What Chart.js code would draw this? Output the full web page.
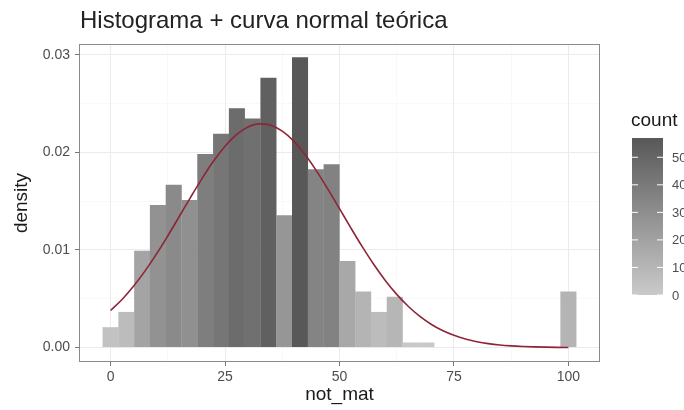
<!DOCTYPE html>
<html>
<head>
<meta charset="utf-8">
<script src="https://cdn.jsdelivr.net/npm/chart.js@4/dist/chart.umd.min.js"></script>
<style>
  body { margin: 0; background: #fff; }
  #wrap { width: 684px; height: 410px; }
</style>
</head>
<body>
<div id="wrap"><canvas id="histChart" width="684" height="410"></canvas></div>
<script>
// histogram bins (centres of not_mat bins) and their counts
const binCenters = [0, 3.45, 6.9, 10.34, 13.79, 17.24, 20.69, 24.14, 27.59, 31.03,
                    34.48, 37.93, 41.38, 44.83, 48.28, 51.72, 55.17, 58.62, 62.07, 65.52,
                    68.97, 72.41, 75.86, 79.31, 82.76, 86.21, 89.66, 93.1, 96.55, 100];
const binCounts = [4, 7, 19, 28, 32, 29, 38, 42, 47, 45,
                   53, 26, 57, 35, 36, 17, 11, 7, 10, 1,
                   1, 0, 0, 0, 0, 0, 0, 0, 0, 11];
const binWidth = 3.448;

// theoretical normal curve
const curveX = [0, 2.5, 5, 7.5, 10, 12.5, 15, 17.5, 20, 22.5, 25, 27.5, 30, 32.5, 35, 37.5, 40,
                42.5, 45, 47.5, 50, 52.5, 55, 57.5, 60, 62.5, 65, 67.5, 70, 72.5, 75, 77.5, 80,
                82.5, 85, 87.5, 90, 92.5, 95, 97.5, 100];
const curveY = [0.00380, 0.00493, 0.00628, 0.00783, 0.00957, 0.01145, 0.01343, 0.01542, 0.01734,
                0.01911, 0.02063, 0.02181, 0.02259, 0.02292, 0.02278, 0.02217, 0.02115, 0.01975,
                0.01808, 0.01620, 0.01423, 0.01224, 0.01031, 0.00851, 0.00688, 0.00545, 0.00423,
                0.00321, 0.00239, 0.00174, 0.00125, 0.00087, 0.00060, 0.00040, 0.00026, 0.00017,
                0.00011, 0.00007, 0.00004, 0.00002, 0.00001];

// axis ticks
const xMajor = [0, 25, 50, 75, 100];
const xMinor = [12.5, 37.5, 62.5, 87.5];
const yMajor = [0, 0.01, 0.02, 0.03];
const yMinor = [0.005, 0.015, 0.025];
const legendBreaks = [0, 10, 20, 30, 40, 50];

const total = binCounts.reduce((a, b) => a + b, 0);
const maxCount = Math.max(...binCounts);
const lowGrey = [202, 202, 202];
const highGrey = [88, 88, 88];

function greyFor(count) {
    const t = count / maxCount;
    const c = lowGrey.map((v, i) => Math.round(v + (highGrey[i] - v) * t));
    return 'rgb(' + c.join(',') + ')';
}

const barData = binCenters.map((x, i) => ({ x: x, y: binCounts[i] / (total * binWidth) }));
const curveData = curveX.map((x, i) => ({ x: x, y: curveY[i] }));

function setTicks(major, minor) {
    return function(scale) {
        scale.ticks = major.map(v => ({ value: v, minor: false }))
            .concat(minor.map(v => ({ value: v, minor: true })))
            .sort((a, b) => a.value - b.value);
    };
}
const gridColor = ctx => (ctx.tick && ctx.tick.minor) ? '#F5F5F5' : '#EBEBEB';
const gridWidth = ctx => (ctx.tick && ctx.tick.minor) ? 0.6 : 1;
const tickColor = ctx => (ctx.tick && ctx.tick.minor) ? 'rgba(0,0,0,0)' : '#777';

// title, panel border and colourbar legend
const decorations = {
    id: 'decorations',
    afterDraw(chart) {
        const ctx = chart.ctx;
        const area = chart.chartArea;
        ctx.save();

        ctx.strokeStyle = '#8a8a8a';
        ctx.lineWidth = 1;
        ctx.strokeRect(area.left + 0.5, area.top + 0.5, area.right - area.left - 1, area.bottom - area.top - 1);

        ctx.fillStyle = '#222';
        ctx.font = '24px "Liberation Sans", Arial, sans-serif';
        ctx.textBaseline = 'alphabetic';
        ctx.textAlign = 'left';
        ctx.fillText('Histograma + curva normal teórica', 80, 28);

        // colourbar
        const bx = 632, bw = 31, top = 138, bottom = 295;
        const grad = ctx.createLinearGradient(0, bottom, 0, top);
        for (let k = 0; k <= 10; k++) {
            grad.addColorStop(k / 10, greyFor(maxCount * k / 10));
        }
        ctx.fillStyle = grad;
        ctx.fillRect(bx, top, bw, bottom - top);

        ctx.fillStyle = '#1a1a1a';
        ctx.font = '19px "Liberation Sans", Arial, sans-serif';
        ctx.fillText('count', 631, 126);

        ctx.font = '13px "Liberation Sans", Arial, sans-serif';
        ctx.textBaseline = 'middle';
        legendBreaks.forEach(v => {
            const y = bottom - (v / maxCount) * (bottom - top);
            ctx.strokeStyle = '#fff';
            ctx.beginPath();
            ctx.moveTo(bx, y); ctx.lineTo(bx + 6, y);
            ctx.moveTo(bx + bw - 6, y); ctx.lineTo(bx + bw, y);
            ctx.stroke();
            ctx.fillStyle = '#4d4d4d';
            ctx.fillText(String(v), bx + bw + 9, y + 1);
        });
        ctx.restore();
    }
};

Chart.defaults.font.family = '"Liberation Sans", Arial, sans-serif';

new Chart(document.getElementById('histChart'), {
    type: 'bar',
    data: {
        datasets: [{
            type: 'line',
            data: curveData,
            borderColor: '#8E2537',
            borderWidth: 1.6,
            pointRadius: 0,
            cubicInterpolationMode: 'monotone',
            order: 0
        }, {
            type: 'bar',
            data: barData,
            backgroundColor: binCounts.map(greyFor),
            borderWidth: 0,
            barPercentage: 1.02,
            categoryPercentage: 1,
            order: 1
        }]
    },
    options: {
        responsive: false,
        animation: false,
        layout: { padding: { top: 44, right: 84, bottom: 0, left: 0 } },
        plugins: {
            legend: { display: false },
            title: { display: false },
            tooltip: { enabled: false }
        },
        scales: {
            x: {
                type: 'linear',
                min: -6.9,
                max: 106.9,
                offset: false,
                afterBuildTicks: setTicks(xMajor, xMinor),
                afterFit: s => { s.height = 48; },
                ticks: {
                    autoSkip: false,
                    maxRotation: 0,
                    padding: 3,
                    color: '#4d4d4d',
                    font: { size: 14 },
                    callback: v => xMajor.includes(v) ? String(v) : ''
                },
                grid: { offset: false, color: gridColor, lineWidth: gridWidth, tickColor: tickColor, tickLength: 4 },
                border: { display: false },
                title: { display: true, text: 'not_mat', color: '#1a1a1a', font: { size: 19 }, padding: { top: 0, bottom: 4 } }
            },
            y: {
                type: 'linear',
                min: -0.00148,
                max: 0.0311,
                afterBuildTicks: setTicks(yMajor, yMinor),
                afterFit: s => { s.width = 79; },
                ticks: {
                    autoSkip: false,
                    padding: 5,
                    color: '#4d4d4d',
                    font: { size: 14 },
                    callback: v => yMajor.includes(v) ? v.toFixed(2) : ''
                },
                grid: { color: gridColor, lineWidth: gridWidth, tickColor: tickColor, tickLength: 4 },
                border: { display: false },
                title: { display: true, text: 'density', color: '#1a1a1a', font: { size: 19 }, padding: { top: 10, bottom: 0 } }
            }
        }
    },
    plugins: [decorations]
});
</script>
</body>
</html>
